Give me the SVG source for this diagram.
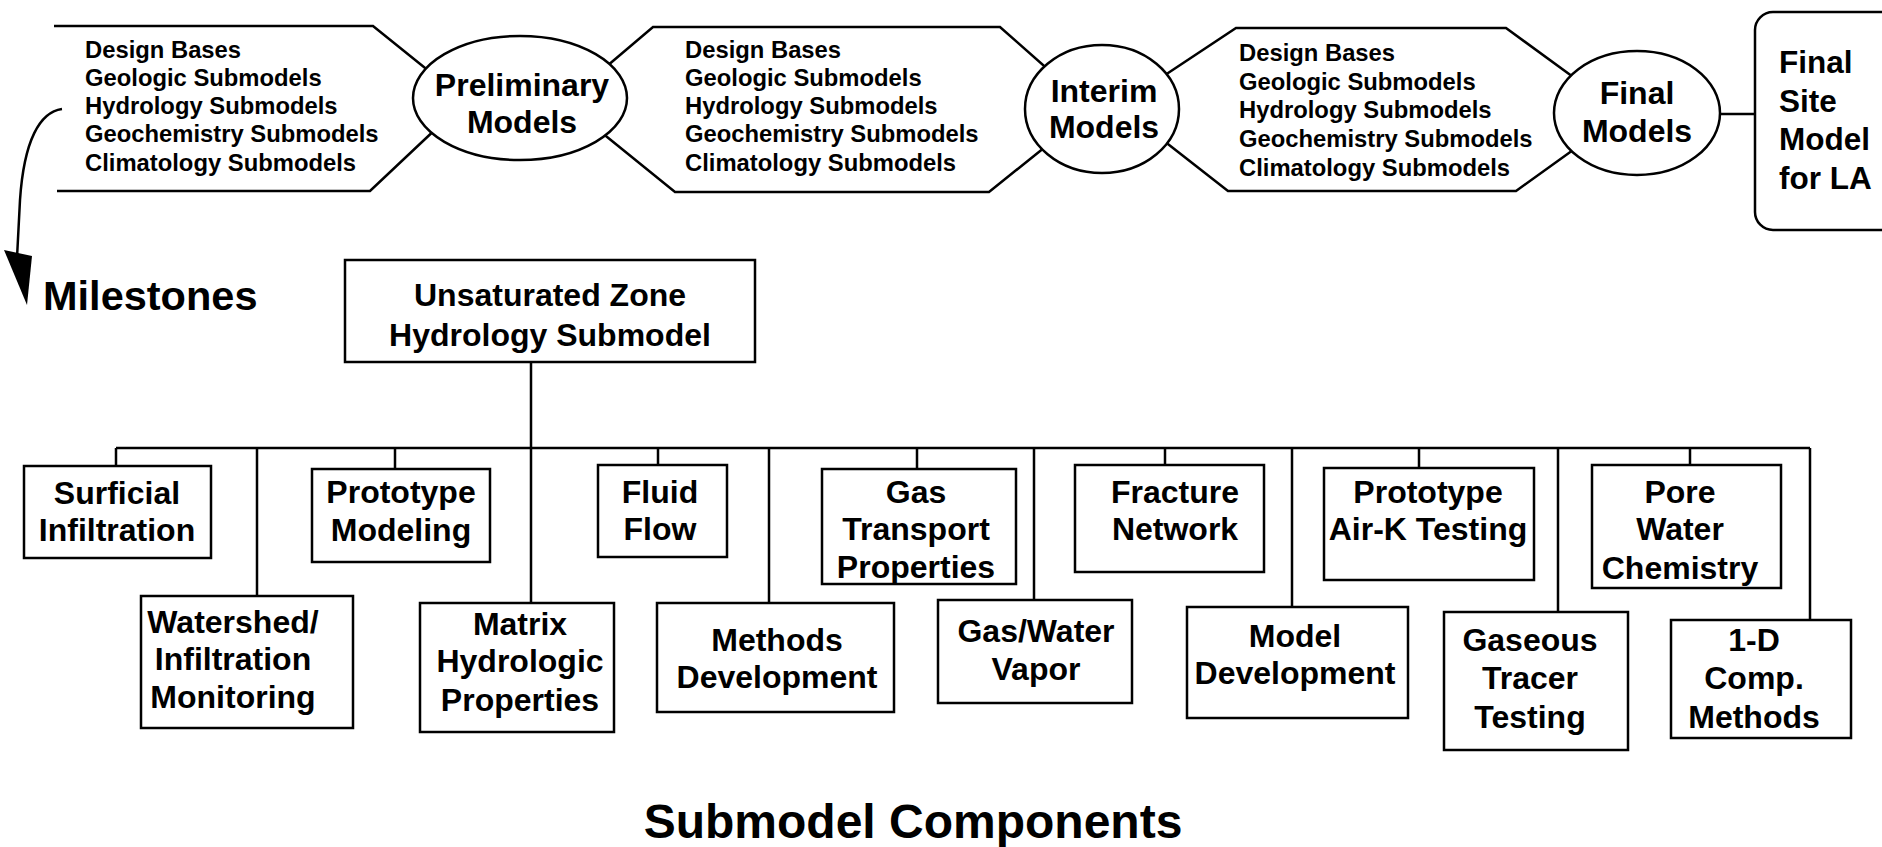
<svg xmlns="http://www.w3.org/2000/svg" width="1882" height="847" viewBox="0 0 1882 847">
<style>
text{font-family:"Liberation Sans",Arial,sans-serif;font-weight:bold;fill:#000}
.band{font-size:23.8px}
.lbl{font-size:32px;text-anchor:middle}
.el{font-size:32px;text-anchor:middle}
.ell{fill:#fff;stroke:#000;stroke-width:2.5}
.box{fill:#fff;stroke:#000;stroke-width:2.5}
.ln{fill:none;stroke:#000;stroke-width:2.5}
</style>
<rect width="1882" height="847" fill="#fff"/>
<g id="connectors">
<path class="ln" d="M54,26 H373 L440,80 M57,191 H370 L440,125"/>
<path class="ln" d="M600,72 L653,27 H1000 L1060,80 M596,128 L675,192 H989 L1060,135"/>
<path class="ln" d="M1150,85 L1236,28 H1506 L1580,82 M1150,130 L1228,191 H1516 L1580,145"/>
<path class="ln" d="M1715,114 H1755"/>
<path class="ln" d="M62,109 C40,112 24,140 20,200 L17,258"/>
<polygon points="4,250 32,256 27,305" fill="#000"/>
<path class="ln" d="M531,362 V603 M116,448 H1810 M116,448 V466 M257,448 V596 M395,448 V469 M658,448 V465 M769,448 V603 M917,448 V469 M1034,448 V600 M1165,448 V465 M1292,448 V607 M1419,448 V468 M1558,448 V612 M1690,448 V465 M1810,448 V620"/>
</g>
<g id="band1">
<text class="band" x="85" y="58">Design Bases</text>
<text class="band" x="85" y="86">Geologic Submodels</text>
<text class="band" x="85" y="114">Hydrology Submodels</text>
<text class="band" x="85" y="142">Geochemistry Submodels</text>
<text class="band" x="85" y="171">Climatology Submodels</text>
</g>
<g id="band2">
<text class="band" x="685" y="58">Design Bases</text>
<text class="band" x="685" y="86">Geologic Submodels</text>
<text class="band" x="685" y="114">Hydrology Submodels</text>
<text class="band" x="685" y="142">Geochemistry Submodels</text>
<text class="band" x="685" y="171">Climatology Submodels</text>
</g>
<g id="band3">
<text class="band" x="1239" y="61">Design Bases</text>
<text class="band" x="1239" y="90">Geologic Submodels</text>
<text class="band" x="1239" y="118">Hydrology Submodels</text>
<text class="band" x="1239" y="147">Geochemistry Submodels</text>
<text class="band" x="1239" y="176">Climatology Submodels</text>
</g>
<g id="preliminary">
<ellipse class="ell" cx="520" cy="98" rx="107" ry="62"/>
<text class="el" x="522" y="96">Preliminary</text>
<text class="el" x="522" y="133">Models</text>
</g>
<g id="interim">
<ellipse class="ell" cx="1102" cy="109" rx="77" ry="64"/>
<text class="el" x="1104" y="102">Interim</text>
<text class="el" x="1104" y="138">Models</text>
</g>
<g id="final">
<ellipse class="ell" cx="1637" cy="113" rx="83" ry="62"/>
<text class="el" x="1637" y="104">Final</text>
<text class="el" x="1637" y="142">Models</text>
</g>
<g id="final-site">
<rect class="box" x="1755" y="12" width="170" height="218" rx="18"/>
<text class="lbl" x="1779" y="73" style="text-anchor:start;font-size:31.5px">Final</text>
<text class="lbl" x="1779" y="112" style="text-anchor:start;font-size:31.5px">Site</text>
<text class="lbl" x="1779" y="150" style="text-anchor:start;font-size:31.5px">Model</text>
<text class="lbl" x="1779" y="189" style="text-anchor:start;font-size:31.5px">for LA</text>
</g>
<g id="milestones"><text x="43" y="310" style="font-size:41.5px">Milestones</text></g>
<g id="unsat">
<rect class="box" x="345" y="260" width="410" height="102"/>
<text class="lbl" x="550" y="306">Unsaturated Zone</text>
<text class="lbl" x="550" y="346">Hydrology Submodel</text>
</g>
<g id="surficial">
<rect class="box" x="24" y="466" width="187" height="92"/>
<text class="lbl" x="117" y="504">Surficial</text>
<text class="lbl" x="117" y="541">Infiltration</text>
</g>
<g id="watershed">
<rect class="box" x="141" y="596" width="212" height="132"/>
<text class="lbl" x="233" y="633">Watershed/</text>
<text class="lbl" x="233" y="670">Infiltration</text>
<text class="lbl" x="233" y="708">Monitoring</text>
</g>
<g id="prototype-modeling">
<rect class="box" x="312" y="469" width="178" height="93"/>
<text class="lbl" x="401" y="503">Prototype</text>
<text class="lbl" x="401" y="541">Modeling</text>
</g>
<g id="matrix">
<rect class="box" x="420" y="603" width="194" height="129"/>
<text class="lbl" x="520" y="635">Matrix</text>
<text class="lbl" x="520" y="672">Hydrologic</text>
<text class="lbl" x="520" y="711">Properties</text>
</g>
<g id="fluid-flow">
<rect class="box" x="598" y="465" width="129" height="92"/>
<text class="lbl" x="660" y="503">Fluid</text>
<text class="lbl" x="660" y="540">Flow</text>
</g>
<g id="methods-development">
<rect class="box" x="657" y="603" width="237" height="109"/>
<text class="lbl" x="777" y="651">Methods</text>
<text class="lbl" x="777" y="688">Development</text>
</g>
<g id="gas-transport">
<rect class="box" x="822" y="469" width="194" height="115"/>
<text class="lbl" x="916" y="503">Gas</text>
<text class="lbl" x="916" y="540">Transport</text>
<text class="lbl" x="916" y="578">Properties</text>
</g>
<g id="gas-water">
<rect class="box" x="938" y="600" width="194" height="103"/>
<text class="lbl" x="1036" y="642">Gas/Water</text>
<text class="lbl" x="1036" y="680">Vapor</text>
</g>
<g id="fracture-network">
<rect class="box" x="1075" y="465" width="189" height="107"/>
<text class="lbl" x="1175" y="503">Fracture</text>
<text class="lbl" x="1175" y="540">Network</text>
</g>
<g id="model-development">
<rect class="box" x="1187" y="607" width="221" height="111"/>
<text class="lbl" x="1295" y="647">Model</text>
<text class="lbl" x="1295" y="684">Development</text>
</g>
<g id="prototype-airk">
<rect class="box" x="1324" y="468" width="210" height="112"/>
<text class="lbl" x="1428" y="503">Prototype</text>
<text class="lbl" x="1428" y="540">Air-K Testing</text>
</g>
<g id="gaseous-tracer">
<rect class="box" x="1444" y="612" width="184" height="138"/>
<text class="lbl" x="1530" y="651">Gaseous</text>
<text class="lbl" x="1530" y="689">Tracer</text>
<text class="lbl" x="1530" y="728">Testing</text>
</g>
<g id="pore-water">
<rect class="box" x="1592" y="465" width="189" height="123"/>
<text class="lbl" x="1680" y="503">Pore</text>
<text class="lbl" x="1680" y="540">Water</text>
<text class="lbl" x="1680" y="579">Chemistry</text>
</g>
<g id="one-d">
<rect class="box" x="1671" y="620" width="180" height="118"/>
<text class="lbl" x="1754" y="651">1-D</text>
<text class="lbl" x="1754" y="689">Comp.</text>
<text class="lbl" x="1754" y="728">Methods</text>
</g>
<g id="submodel-components"><text x="913" y="838" style="font-size:48px;text-anchor:middle">Submodel Components</text></g>
</svg>
